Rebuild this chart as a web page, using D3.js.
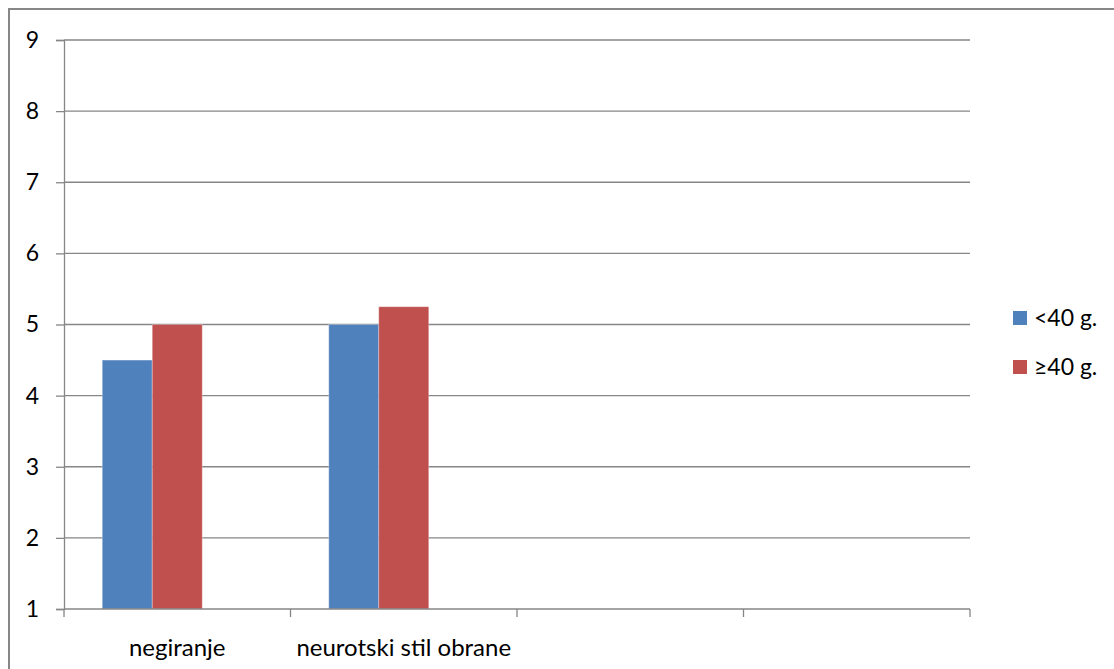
<!DOCTYPE html>
<html>
<head>
<meta charset="utf-8">
<script src="https://cdn.jsdelivr.net/npm/d3@7"></script>
<style>
  body { margin: 0; background: #fff; }
  text { font-family: Lato, "Open Sans", sans-serif; fill: #000; }
</style>
</head>
<body>
<svg width="1114" height="669"></svg>
<script>
// categories along the x axis (the last two are empty in the original)
var categories = ["negiranje", "neurotski stil obrane", "", ""];
var seriesNames = ["<40 g.", "\u226540 g."];
var under40 = [4.5, 5.0, null, null];
var over40 = [5.0, 5.25, null, null];
var yTicks = [1, 2, 3, 4, 5, 6, 7, 8, 9];

var colors = ["#4F81BD", "#C0504D"];
var series = [under40, over40];

var svg = d3.select("svg");

// chart border
svg.append("rect")
    .attr("x", 9).attr("y", 9)
    .attr("width", 1120).attr("height", 680)
    .attr("fill", "none")
    .attr("stroke", "#878787")
    .attr("stroke-width", 2);

var plotLeft = 64, plotRight = 970, plotTop = 40, plotBottom = 609;

var x = d3.scaleBand().domain(d3.range(categories.length)).range([plotLeft, plotRight]).padding(0);
// the original reserves room for a third (empty) series slot in each group
var xs = d3.scaleBand().domain([0, 1, 2]).range([0, x.bandwidth()])
    .paddingInner(0).paddingOuter(0.765);
var y = d3.scaleLinear().domain([1, 9]).range([plotBottom, plotTop]);

// gridlines
svg.append("g")
    .selectAll("line")
    .data(yTicks.slice(1))
    .enter().append("line")
    .attr("x1", plotLeft).attr("x2", plotRight)
    .attr("y1", function (d) { return y(d); })
    .attr("y2", function (d) { return y(d); })
    .attr("stroke", "#868686")
    .attr("stroke-width", 1.3);

// bars
series.forEach(function (vals, si) {
    svg.append("g")
        .selectAll("rect")
        .data(vals.map(function (v, i) { return { i: i, v: v }; }).filter(function (d) { return d.v != null; }))
        .enter().append("rect")
        .attr("x", function (d) { return x(d.i) + xs(si); })
        .attr("y", function (d) { return y(d.v); })
        .attr("width", xs.bandwidth())
        .attr("height", function (d) { return y(1) - y(d.v); })
        .attr("fill", colors[si])
        .attr("stroke", "rgba(255,255,255,0.3)")
        .attr("stroke-width", 1);
});

// y axis
var yAxis = svg.append("g")
    .attr("transform", "translate(" + plotLeft + ",0)")
    .call(d3.axisLeft(y).tickValues(yTicks).tickFormat(d3.format("d")).tickSize(8).tickPadding(17));
yAxis.select(".domain").attr("stroke", "#868686").attr("stroke-width", 1.3);
yAxis.selectAll(".tick line").attr("stroke", "#868686").attr("stroke-width", 1.3);
yAxis.selectAll("text").attr("font-size", 23).attr("font-family", "Lato, sans-serif").attr("fill", "#000");

// x axis: ticks at band edges
var xg = svg.append("g");
xg.append("line")
    .attr("x1", plotLeft).attr("x2", plotRight)
    .attr("y1", plotBottom).attr("y2", plotBottom)
    .attr("stroke", "#868686").attr("stroke-width", 1.3);
xg.selectAll(".edge")
    .data(d3.range(categories.length + 1))
    .enter().append("line")
    .attr("class", "edge")
    .attr("x1", function (d) { return plotLeft + d * x.step(); })
    .attr("x2", function (d) { return plotLeft + d * x.step(); })
    .attr("y1", plotBottom).attr("y2", plotBottom + 8)
    .attr("stroke", "#868686").attr("stroke-width", 1.3);
xg.selectAll(".lbl")
    .data(categories)
    .enter().append("text")
    .attr("class", "lbl")
    .attr("x", function (d, i) { return x(i) + x.bandwidth() / 2; })
    .attr("y", 656)
    .attr("text-anchor", "middle")
    .attr("font-size", 24)
    .text(function (d) { return d; });

// legend
var legend = svg.append("g");
seriesNames.forEach(function (name, i) {
    legend.append("rect")
        .attr("x", 1013).attr("y", 311 + i * 49)
        .attr("width", 14).attr("height", 14)
        .attr("fill", colors[i]);
    legend.append("text")
        .attr("x", 1034).attr("y", 318 + i * 49)
        .attr("dy", "0.35em")
        .attr("font-size", 23)
        .text(name);
});
</script>
</body>
</html>
